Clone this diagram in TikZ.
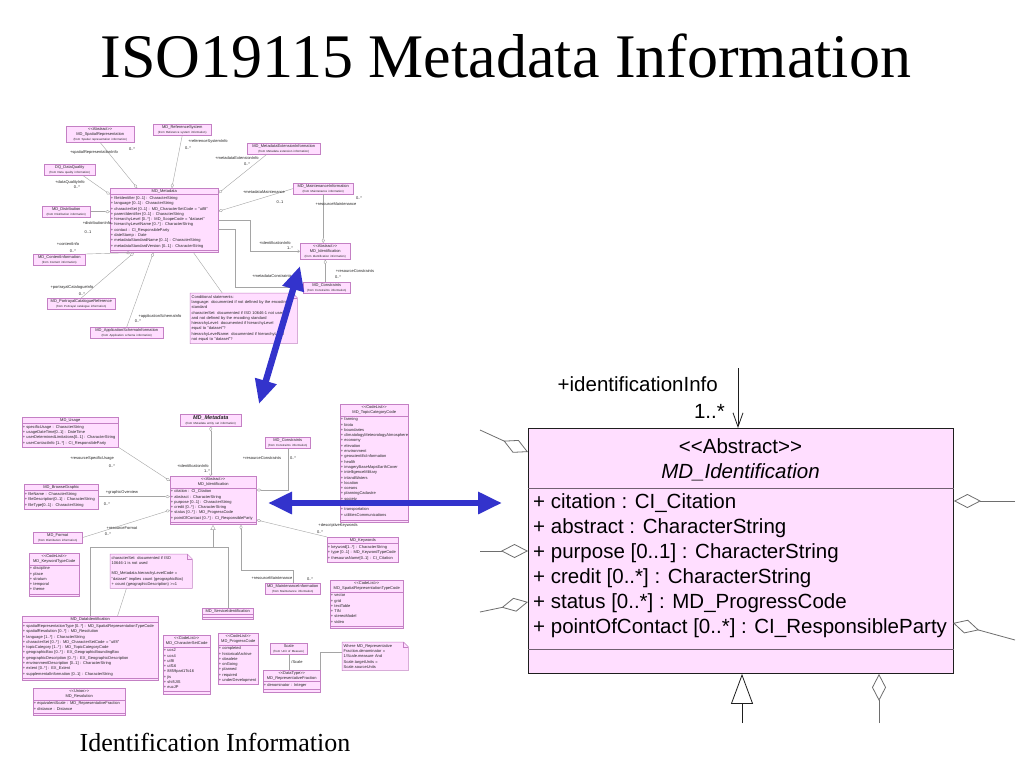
\documentclass[tikz,border=0pt]{standalone}
\usepackage{fontspec}
\setmainfont{Liberation Serif}
\newfontfamily\diafont{Liberation Sans}
\usetikzlibrary{shapes.multipart,arrows.meta,calc}
\definecolor{clsfill}{RGB}{255,222,255}
\definecolor{thumbborder}{RGB}{196,128,196}
\definecolor{thumbline}{RGB}{165,165,165}
\definecolor{bigblue}{RGB}{51,51,204}
\definecolor{bigborder}{RGB}{30,30,30}
\definecolor{bigdiv}{RGB}{112,96,112}
\definecolor{biggrey}{RGB}{110,110,110}
\newcommand\thumbf{\diafont\fontsize{4}{5.3}\selectfont}
\newcommand\fromsz{\fontsize{2.9}{3.6}\selectfont}
\newcommand\bigf{\diafont\fontsize{20.5}{25}\selectfont}
\newcommand\stereo[1]{<{}<#1>{}>}
\newcommand\attr[1]{\leavevmode\begin{tabular}{@{}l@{}}#1\end{tabular}\hskip 0pt plus 1filll\null}
\newcommand\notefold[1]{%
  \fill[white] ([xshift=-5pt]#1.north east) -- (#1.north east) -- ([yshift=-5pt]#1.north east) -- cycle;
  \draw[draw=thumbborder, line width=0.5pt] (#1.north west) -- ([xshift=-5pt]#1.north east) -- ([yshift=-5pt]#1.north east) -- (#1.south east) -- (#1.south west) -- cycle;
  \draw[draw=thumbborder, line width=0.4pt] ([xshift=-5pt]#1.north east) -- ([xshift=-5pt,yshift=-5pt]#1.north east) -- ([yshift=-5pt]#1.north east);}
\tikzset{
  tbox/.style={draw=thumbborder, fill=clsfill, line width=0.5pt, font=\thumbf, text=black!85, align=center, inner xsep=0.5pt, inner ysep=1pt, anchor=north west},
  tcls/.style={tbox, rectangle split, rectangle split parts=2, rectangle split part align={center,left,left}, rectangle split empty part height=3pt},
  tcls3/.style={tcls, rectangle split parts=3},
  notebox/.style={fill=clsfill, draw=none, font=\thumbf, text=black!85, align=left, inner xsep=1.5pt, inner ysep=2pt, anchor=north west},
  lbl/.style={font=\thumbf, text=black!85, inner sep=0.3pt},
  tline/.style={draw=thumbline, line width=0.4pt},
  agge/.style={tline, -{Diamond[open,length=5pt,width=3pt]}},
  aggs/.style={tline, {Diamond[open,length=5pt,width=3pt]}-},
  navi/.style={tline, -{Straight Barb[length=2pt,width=3pt]}},
  gen/.style={tline, -{Triangle[open,length=5pt,width=5pt]}},
  bigconn/.style={draw=bigborder, line width=0.8pt},
  bigagg/.style={draw=biggrey, line width=0.8pt, -{Diamond[open,length=27pt,width=14pt]}},
  bluearrow/.style={draw=bigblue, line width=6.5pt, {Triangle[length=24pt,width=21pt]}-{Triangle[length=24pt,width=21pt]}},
}
\begin{document}
\begin{tikzpicture}[x=1pt,y=-1pt]
\useasboundingbox (0,0) rectangle (1024,768);
\fill[white] (0,0) rectangle (1024,768);

% ---------- titles ----------
\node[font=\fontsize{62}{70}\selectfont, inner sep=0] (title) at (506,56) {ISO19115 Metadata Information};
\node[font=\fontsize{26}{30}\selectfont, inner sep=0] (caption) at (215,742) {Identification Information};

% ---------- top overview diagram ----------
\node[tbox, text width=67pt] (sprep) at (66,126) {\stereo{Abstract}\\MD\_SpatialRepresentation\\{\fromsz (from Spatial representation information)}};
\node[tbox, text width=57pt] (refsys) at (153,124) {MD\_ReferenceSystem\\{\fromsz (from Reference system information)}};
\node[tbox, text width=72pt] (mdext) at (247,143) {MD\_MetadataExtensionInformation\\{\fromsz (from Metadata extension information)}};
\node[tbox, text width=50pt] (dq) at (44,164) {DQ\_DataQuality\\{\fromsz (from Data quality information)}};
\node[tcls3, text width=107pt] (mdm) at (110,188) {MD\_Metadata\nodepart{two}\attr{+ fileIdentifier [0..1] : CharacterString\\+ language [0..1] : CharacterString\\+ characterSet [0..1] : MD\_CharacterSetCode = "utf8"\\+ parentIdentifier [0..1] : CharacterString\\+ hierarchyLevel [0..*] : MD\_ScopeCode = "dataset"\\+ hierarchyLevelName [0..*] : CharacterString\\+ contact : CI\_ResponsibleParty\\+ dateStamp : Date\\+ metadataStandardName [0..1] : CharacterString\\+ metadataStandardVersion [0..1] : CharacterString}\nodepart{three}};
\node[tbox, text width=59pt] (maint) at (293,183) {MD\_MaintenanceInformation\\{\fromsz (from Maintenance information)}};
\node[tbox, text width=47pt] (distrib) at (42,206) {MD\_Distribution\\{\fromsz (from Distribution information)}};
\node[tbox, text width=51pt] (content) at (33,254) {MD\_ContentInformation\\{\fromsz (from Content information)}};
\node[tbox, text width=67pt] (portray) at (47,298) {MD\_PortrayalCatalogueReference\\{\fromsz (from Portrayal catalogue information)}};
\node[tbox, text width=72pt] (appsch) at (90,327) {MD\_ApplicationSchemaInformation\\{\fromsz (from Application schema information)}};
\node[tbox, text width=49pt] (tid) at (300,243) {\stereo{Abstract}\\MD\_Identification\\{\fromsz (from Identification information)}};
\node[tbox, text width=46pt] (tcons) at (303,282) {MD\_Constraints\\{\fromsz (from Constraints information)}};
\node[notebox, text width=104pt] (tnote) at (190,293) {Conditional statements:\\language: documented if not defined by the encoding\\standard\\characterSet: documented if ISO 10646-1 not used\\and not defined by the encoding standard\\hierarchyLevel: documented if hierarchyLevel\\equal to "dataset"?\\hierarchyLevelName: documented if hierarchyLevel\\not equal to "dataset"?};
\notefold{tnote}

\draw[agge] (sprep.south) -- ($(mdm.north west)!0.25!(mdm.north east)$);
\draw[agge] (refsys.south) -- ($(mdm.north west)!0.57!(mdm.north east)$);
\draw[agge] ($(mdext.south west)!0.27!(mdext.south east)$) -- ($(mdm.north east)!0.08!(mdm.south east)$);
\draw[agge] ($(dq.south west)!0.75!(dq.south east)$) -- ($(mdm.north west)!0.1!(mdm.south west)$);
\draw[agge] (maint.west) -- ($(mdm.north east)!0.36!(mdm.south east)$);
\draw[agge] (distrib.east) -- (distrib.east -| mdm.west);
\draw[agge] (maint.south) -- (maint.south |- tid.north);
\coordinate (k1) at (250,220);
\draw[navi] (mdm.east |- k1) -- (k1) |- (tid.west);
\coordinate (k2) at (235,229);
\draw[navi] (mdm.east |- k2) -- (k2) |- (tcons.west);
\draw[aggs] (tid.south) -- (tid.south |- tcons.north);
\draw[agge] (content.north east) -- ($(mdm.south west)!0.19!(mdm.south east)$);
\draw[agge] (portray.north) -- ($(mdm.south west)!0.22!(mdm.south east)$);
\draw[agge] (appsch.north) -- ($(mdm.south west)!0.4!(mdm.south east)$);
\draw[tline] ($(mdm.south west)!0.77!(mdm.south east)$) -- ($(tnote.north west)!0.3!(tnote.north east)$);

\node[lbl] (l1) at (94,152) {+spatialRepresentationInfo};
\node[lbl] (l2) at (132,149) {0..*};
\node[lbl] (l3) at (208,141) {+referenceSystemInfo};
\node[lbl] (l4) at (188,148) {0..*};
\node[lbl] (l5) at (237,158) {+metadataExtensionInfo};
\node[lbl] (l6) at (247,164) {0..*};
\node[lbl] (l7) at (70,182) {+dataQualityInfo};
\node[lbl] (l8) at (77,187) {0..*};
\node[lbl] (l9) at (264,192) {+metadataMaintenance};
\node[lbl] (l10) at (280,202) {0..1};
\node[lbl] (l11) at (336,204) {+resourceMaintenance};
\node[lbl] (l12) at (359,198) {0..*};
\node[lbl] (l13) at (97,223) {+distributionInfo};
\node[lbl] (l14) at (88,232) {0..1};
\node[lbl] (l15) at (68,244) {+contentInfo};
\node[lbl] (l16) at (73,251) {0..*};
\node[lbl] (l17) at (72,287) {+portrayalCatalogueInfo};
\node[lbl] (l18) at (82,294) {0..*};
\node[lbl] (l19) at (160,316) {+applicationSchemaInfo};
\node[lbl] (l20) at (138,321) {0..*};
\node[lbl] (l21) at (275,243) {+identificationInfo};
\node[lbl] (l22) at (290,248) {1..*};
\node[lbl] (l23) at (272,276) {+metadataConstraints};
\node[lbl] (l24) at (355,271) {+resourceConstraints};
\node[lbl] (l25) at (338,277) {0..*};

% ---------- bottom detail diagram ----------
\node[tcls, text width=95pt] (usage) at (22,417) {MD\_Usage\nodepart{two}\attr{+ specificUsage : CharacterString\\+ usageDateTime[0..1] : DateTime\\+ userDeterminedLimitations[0..1] : CharacterString\\+ userContactInfo [1..*] : CI\_ResponsibleParty}};
\node[tbox, text width=60pt] (bmdm) at (180,414) {{\fontsize{5.5}{6.5}\selectfont\bfseries\itshape MD\_Metadata}\\{\fromsz (from Metadata entity set information)}};
\node[tbox, text width=44pt] (bcons) at (265,437) {MD\_Constraints\\{\fromsz (from Constraints information)}};
\node[tcls3, text width=67pt] (topic) at (340,404) {\stereo{CodeList}\\MD\_TopicCategoryCode\nodepart{two}\attr{+ farming\\+ biota\\+ boundaries\\+ climatologyMeteorologyAtmosphere\\+ economy\\+ elevation\\+ environment\\+ geoscientificInformation\\+ health\\+ imageryBaseMapsEarthCover\\+ intelligenceMilitary\\+ inlandWaters\\+ location\\+ oceans\\+ planningCadastre\\+ society\\+ structure\\+ transportation\\+ utilitiesCommunications}\nodepart{three}};
\node[tcls3, text width=85pt] (bid) at (170,476) {\stereo{Abstract}\\MD\_Identification\nodepart{two}\attr{+ citation : CI\_Citation\\+ abstract : CharacterString\\+ purpose [0..1] : CharacterString\\+ credit [0..*] : CharacterString\\+ status [0..*] : MD\_ProgressCode\\+ pointOfContact [0..*] : CI\_ResponsibleParty}\nodepart{three}};
\node[tcls, text width=73pt] (browse) at (24,484) {MD\_BrowseGraphic\nodepart{two}\attr{+ fileName : CharacterString\\+ fileDescription[0..1] : CharacterString\\+ fileType[0..1] : CharacterString}};
\node[tbox, text width=48pt] (format) at (33,532) {MD\_Format\\{\fromsz (from Distribution information)}};
\node[tcls3, text width=49pt] (kwcode) at (29,553) {\stereo{CodeList}\\MD\_KeywordTypeCode\nodepart{two}\attr{+ discipline\\+ place\\+ stratum\\+ temporal\\+ theme}\nodepart{three}};
\node[notebox, text width=79pt] (bnote) at (110,554) {characterSet: documented if ISO\\10646-1 is not used\\[5pt]MD\_Metadata.hierarchyLevelCode =\\"dataset" implies count (geographicBox)\\+ count (geographicDescription) >=1};
\notefold{bnote}
\node[tcls3, text width=135pt] (dataid) at (22,616) {MD\_DataIdentification\nodepart{two}\attr{+ spatialRepresentationType [0..*] : MD\_SpatialRepresentationTypeCode\\+ spatialResolution [0..*] : MD\_Resolution\\+ language [1..*] : CharacterString\\+ characterSet [0..*] : MD\_CharacterSetCode = "utf8"\\+ topicCategory [1..*] : MD\_TopicCategoryCode\\+ geographicBox [0..*] : EX\_GeographicBoundingBox\\+ geographicDescription [0..*] : EX\_GeographicDescription\\+ environmentDescription [0..1] : CharacterString\\+ extent [0..*] : EX\_Extent\\+ supplementalInformation [0..1] : CharacterString}\nodepart{three}};
\node[tcls3, text width=50pt] (serv) at (202,608) {MD\_ServiceIdentification\nodepart{two}\nodepart{three}};
\node[tcls, text width=70pt] (kw) at (327,537) {MD\_Keywords\nodepart{two}\attr{+ keyword[1..*] : CharacterString\\+ type [0..1] : MD\_KeywordTypeCode\\+ thesaurusName[0..1] : CI\_Citation}};
\node[tbox, text width=54pt] (bmaint) at (265,583) {MD\_MaintenanceInformation\\{\fromsz (from Maintenance information)}};
\node[tcls3, text width=72pt] (srtc) at (330,580) {\stereo{CodeList}\\MD\_SpatialRepresentationTypeCode\nodepart{two}\attr{+ vector\\+ grid\\+ textTable\\+ TIN\\+ stereoModel\\+ video}\nodepart{three}};
\node[tcls3, text width=46pt] (csc) at (163,635) {\stereo{CodeList}\\MD\_CharacterSetCode\nodepart{two}\attr{+ ucs2\\+ ucs4\\+ utf8\\+ utf16\\+ 8859part1To16\\+ jis\\+ shiftJIS\\+ eucJP}\nodepart{three}};
\node[tcls, text width=39pt] (prog) at (218,633) {\stereo{CodeList}\\MD\_ProgressCode\nodepart{two}\attr{+ completed\\+ historicalArchive\\+ obsolete\\+ onGoing\\+ planned\\+ required\\+ underDevelopment}};
\node[tbox, text width=36pt] (scale) at (270,643) {Scale\\{\fromsz (from Unit of Measure)}};
\node[tcls3, text width=56pt] (repfrac) at (263,670) {\stereo{DataType}\\MD\_RepresentativeFraction\nodepart{two}\attr{+ denominator : Integer}\nodepart{three}};
\node[notebox, text width=63pt] (fnote) at (342,642) {Where MD\_Representative\\Fraction.denominator =\\1/Scale.measure And\\Scale.targetUnits =\\Scale.sourceUnits};
\notefold{fnote}
\node[tcls3, text width=91pt] (res) at (33,688) {\stereo{Union}\\MD\_Resolution\nodepart{two}\attr{+ equivalentScale : MD\_RepresentativeFraction\\+ distance : Distance}\nodepart{three}};

\draw[tline, {Diamond[open,length=5pt,width=3pt]}-{Straight Barb[length=2pt,width=3pt]}] (bmdm.south) -- (bmdm.south |- bid.north);
\draw[agge] (usage.south east) -- ($(bid.north west)!0.1!(bid.south west)$);
\coordinate (m1) at (288,490);
\draw[aggs] (bid.east |- m1) -- (m1) -- (m1 |- bcons.south);
\draw[aggs] (bid.west |- browse.east) -- (browse.east);
\draw[aggs] ($(bid.north west)!0.7!(bid.south west)$) -- (format.east);
\draw[aggs] ($(bid.north east)!0.9!(bid.south east)$) -- (kw.north west);
\coordinate (m2) at (241,570);
\draw[aggs] (bid.south -| m2) -- (m2) -| (bmaint.north);
\coordinate (g1) at (213,547);
\draw[gen] (dataid.north) |- (g1) -- (g1 |- bid.south);
\draw[tline] (serv.north) |- (g1);
\draw[tline] ($(bnote.south west)!0.2!(bnote.south east)$) -- ($(dataid.north west)!0.7!(dataid.north east)$);
\draw[tline] (scale.south) -- (scale.south |- repfrac.north);
\coordinate (m3) at (320,652);
\draw[tline] (fnote.west |- m3) -- (m3) -- (m3 |- repfrac.north);

\node[lbl] (b1) at (92,458) {+resourceSpecificUsage};
\node[lbl] (b2) at (112,466) {0..*};
\node[lbl] (b3) at (193,466) {+identificationInfo};
\node[lbl] (b4) at (207,471) {1..*};
\node[lbl] (b5) at (262,458) {+resourceConstraints};
\node[lbl] (b6) at (293,458) {0..*};
\node[lbl] (b7) at (122,492) {+graphicOverview};
\node[lbl] (b8) at (107,504) {0..*};
\node[lbl] (b9) at (122,528) {+resourceFormat};
\node[lbl] (b10) at (108,534) {0..*};
\node[lbl] (b11) at (338,525) {+descriptiveKeywords};
\node[lbl] (b12) at (320,532) {0..*};
\node[lbl] (b13) at (272,578) {+resourceMaintenance};
\node[lbl] (b14) at (310,579) {0..*};
\node[lbl] (b15) at (297,662) {/Scale};

% ---------- enlarged MD_Identification ----------
\node[draw=bigborder, fill=clsfill, line width=0.9pt, minimum width=425pt, minimum height=245pt, anchor=north west, inner sep=0] (bigid) at (528,428) {};
\coordinate (dv1) at (0,488);
\coordinate (dv2) at (0,649);
\draw[draw=bigdiv, line width=0.9pt] (bigid.west |- dv1) -- (bigid.east |- dv1);
\draw[draw=bigdiv, line width=0.9pt] (bigid.west |- dv2) -- (bigid.east |- dv2);
\node[font=\bigf, anchor=base, inner sep=0] (bt1) at (740.5,453) {\stereo{Abstract}};
\node[font=\bigf\itshape, anchor=base, inner sep=0] (bt2) at (740.5,478) {MD\_Identification};
\node[font=\bigf, anchor=base west, inner sep=0] (r1) at (533,508) {+ citation : CI\_Citation};
\node[font=\bigf, anchor=base west, inner sep=0] (r2) at (533,533) {+ abstract : CharacterString};
\node[font=\bigf, anchor=base west, inner sep=0] (r3) at (533,558) {+ purpose [0..1] : CharacterString};
\node[font=\bigf, anchor=base west, inner sep=0] (r4) at (533,583) {+ credit [0..*] : CharacterString};
\node[font=\bigf, anchor=base west, inner sep=0] (r5) at (533,608) {+ status [0..*] : MD\_ProgressCode};
\node[font=\bigf, anchor=base west, inner sep=0] (r6) at (533,633) {+ pointOfContact [0..*] : CI\_ResponsibleParty};

\node[font=\bigf, anchor=base east, inner sep=0] (bl1) at (718,391) {+identificationInfo};
\node[font=\bigf, anchor=base east, inner sep=0] (bl2) at (725,418) {1..*};
\coordinate (e0) at (738,368);
\draw[bigconn, -{Straight Barb[length=14pt,width=10pt]}] (e0) -- (e0 |- bigid.north);

\coordinate (e1) at (480,430); \coordinate (f1) at (528,452);
\draw[bigagg] (e1) -- (f1);
\coordinate (e2) at (480,551);
\draw[bigagg] (e2) -- (e2 -| bigid.west);
\coordinate (e3) at (480,612); \coordinate (f3) at (528,602);
\draw[bigagg] (e3) -- (f3);
\coordinate (e4) at (1015,501);
\draw[bigagg] (e4) -- (e4 -| bigid.east);
\coordinate (e5) at (1015,640); \coordinate (f5) at (953,623);
\draw[bigagg] (e5) -- (f5);
\coordinate (e6) at (742,723);
\draw[bigconn, -{Triangle[open,length=30pt,width=22pt]}] (e6) -- (e6 |- bigid.south);
\coordinate (e7) at (879,723);
\draw[bigagg] (e7) -- (e7 |- bigid.south);

% ---------- blue link arrows ----------
\coordinate (ua) at (300,266); \coordinate (ub) at (259,404);
\draw[bluearrow] (ua) -- (ub);
\coordinate (ha) at (268,503); \coordinate (hb) at (502,503);
\draw[bluearrow] (ha) -- (hb);
\end{tikzpicture}
\end{document}
